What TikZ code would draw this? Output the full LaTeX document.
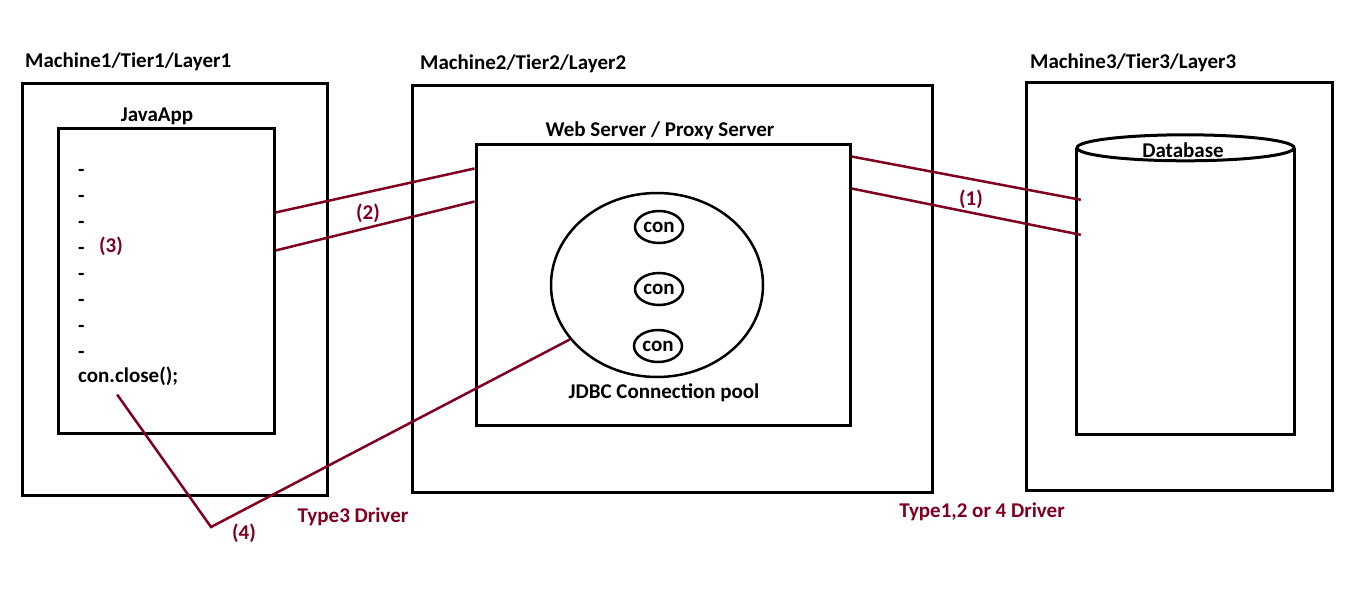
\documentclass[tikz,border=0pt]{standalone}
\usepackage{fontspec}
\setmainfont{Carlito}
\usetikzlibrary{shapes.geometric}
\definecolor{wirered}{RGB}{128,0,32}
\tikzset{
  box/.style={draw, line width=3pt, inner sep=0pt},
  wire/.style={draw=wirered, line width=2.5pt},
  lbl/.style={font=\fontsize{21}{25}\selectfont\bfseries, inner sep=0pt},
  redlbl/.style={lbl, text=wirered},
  conn/.style={draw, ellipse, line width=2.5pt, minimum width=48pt, minimum height=32pt, inner sep=0pt, font=\fontsize{21}{25}\selectfont\bfseries}
}
\begin{document}
\begin{tikzpicture}[x=1pt, y=-1pt]
  \useasboundingbox (0,0) rectangle (1360,613);

  % machine 1
  \node[box, minimum width=305pt, minimum height=412pt] (m1) at (174.5,289) {};
  \node[lbl, anchor=west] (m1lbl) at (25,62) {Machine1/Tier1/Layer1};
  \node[box, minimum width=216pt, minimum height=305pt] (javaapp) at (166,280.5) {};
  \node[lbl] (javalbl) at (157,116) {JavaApp};
  \foreach \y in {173,199,225,251,277,303,329,355} {
    \node[lbl, anchor=west] (d\y) at (78,\y) {-};
  }
  \node[lbl, anchor=west] (close) at (78,376) {con.close();};
  \node[redlbl] (n3) at (111,246) {(3)};

  % machine 2
  \node[box, minimum width=520pt, minimum height=407pt] (m2) at (672,288.5) {};
  \node[lbl, anchor=west] (m2lbl) at (420,64) {Machine2/Tier2/Layer2};
  \node[box, minimum width=374pt, minimum height=281pt] (web) at (663,284.5) {};
  \node[lbl] (weblbl) at (660,131) {Web Server / Proxy Server};
  \node[draw, ellipse, line width=2.5pt, minimum width=212pt, minimum height=184pt] (pool) at (657,285) {};
  \node[conn] (con1) at (659,227) {con};
  \node[conn] (con2) at (659,289) {con};
  \node[conn] (con3) at (658,346) {con};
  \node[lbl] (poollbl) at (664,393) {JDBC Connection pool};

  % machine 3
  \node[box, minimum width=306pt, minimum height=408pt] (m3) at (1179,286) {};
  \node[lbl, anchor=west] (m3lbl) at (1030,63) {Machine3/Tier3/Layer3};
  \node[minimum width=217pt, minimum height=286pt, inner sep=0pt] (db) at (1185.5,291) {};
  \draw[line width=3pt] (db.north west) -- (db.south west) -- (db.south east) -- (db.north east);
  \draw[line width=3pt, fill=white] (db.north) ellipse [x radius=108.5pt, y radius=13pt];
  \node[lbl] (dblbl) at (1183,150) {Database};

  % drivers
  \coordinate (bend) at (211,527);
  \draw[wire] ([yshift=-86pt]javaapp.north east) -- ([yshift=-26pt]web.north west);
  \draw[wire] ([yshift=-124pt]javaapp.north east) -- ([yshift=-59pt]web.north west);
  \draw[wire] ([yshift=-14pt]web.north east) -- ([xshift=4pt,yshift=-52pt]db.north west);
  \draw[wire] ([yshift=-46pt]web.north east) -- ([xshift=4pt,yshift=-87pt]db.north west);
  \draw[wire] ([xshift=-11pt,yshift=-9pt]close.south) -- (bend) -- (pool.212);
  \node[redlbl] (n2) at (368,213) {(2)};
  \node[redlbl] (n1) at (971,199) {(1)};
  \node[redlbl] (n4) at (244,533) {(4)};
  \node[redlbl] (t3) at (353,517) {Type3 Driver};
  \node[redlbl] (t124) at (982,512) {Type1,2 or 4 Driver};
\end{tikzpicture}
\end{document}
